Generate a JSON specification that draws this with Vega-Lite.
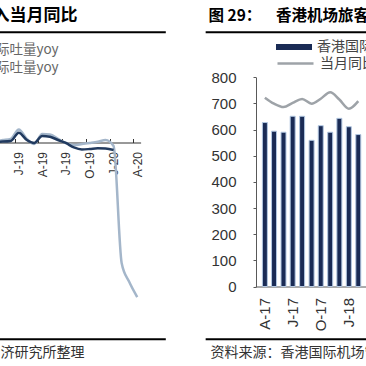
{
  "$schema": "https://vega.github.io/schema/vega-lite/v6.json",
  "width": 366,
  "height": 366,
  "autosize": {"type": "none"},
  "padding": 0,
  "background": "white",
  "config": {
    "view": {"stroke": null},
    "axis": {"grid": false, "labelFont": "Liberation Sans", "titleFont": "Noto Sans CJK SC"},
    "legend": {"labelFont": "Noto Sans CJK SC", "padding": 0}
  },
  "layer": [
    {
      "layer": [
        {
          "data": {"values": [
            {"month": "2018-09-01", "series": "实际吐量yoy", "yoy": 1.3},
            {"month": "2018-10-01", "series": "实际吐量yoy", "yoy": 1.0},
            {"month": "2018-11-01", "series": "实际吐量yoy", "yoy": 1.6},
            {"month": "2018-12-01", "series": "实际吐量yoy", "yoy": 2.3},
            {"month": "2019-01-01", "series": "实际吐量yoy", "yoy": 8.4},
            {"month": "2019-02-01", "series": "实际吐量yoy", "yoy": 2.3},
            {"month": "2019-03-01", "series": "实际吐量yoy", "yoy": -1.0},
            {"month": "2019-04-01", "series": "实际吐量yoy", "yoy": 5.5},
            {"month": "2019-05-01", "series": "实际吐量yoy", "yoy": 5.2},
            {"month": "2019-06-01", "series": "实际吐量yoy", "yoy": 2.3},
            {"month": "2019-07-01", "series": "实际吐量yoy", "yoy": -0.3},
            {"month": "2019-08-01", "series": "实际吐量yoy", "yoy": -1.6},
            {"month": "2019-09-01", "series": "实际吐量yoy", "yoy": -1.0},
            {"month": "2019-10-01", "series": "实际吐量yoy", "yoy": -0.3},
            {"month": "2019-11-01", "series": "实际吐量yoy", "yoy": 0.5},
            {"month": "2019-12-01", "series": "实际吐量yoy", "yoy": 1.6},
            {"month": "2020-01-01", "series": "实际吐量yoy", "yoy": -2.3},
            {"month": "2020-02-01", "series": "实际吐量yoy", "yoy": -77.7},
            {"month": "2020-03-01", "series": "实际吐量yoy", "yoy": -89.9},
            {"month": "2020-04-01", "series": "实际吐量yoy", "yoy": -99.7},
            {"month": "2018-09-01", "series": "国际吐量yoy", "yoy": 0.5},
            {"month": "2018-10-01", "series": "国际吐量yoy", "yoy": 0.5},
            {"month": "2018-11-01", "series": "国际吐量yoy", "yoy": 0.6},
            {"month": "2018-12-01", "series": "国际吐量yoy", "yoy": 1.0},
            {"month": "2019-01-01", "series": "国际吐量yoy", "yoy": 6.3},
            {"month": "2019-02-01", "series": "国际吐量yoy", "yoy": 1.6},
            {"month": "2019-03-01", "series": "国际吐量yoy", "yoy": -0.3},
            {"month": "2019-04-01", "series": "国际吐量yoy", "yoy": 4.2},
            {"month": "2019-05-01", "series": "国际吐量yoy", "yoy": 3.7},
            {"month": "2019-06-01", "series": "国际吐量yoy", "yoy": 1.6},
            {"month": "2019-07-01", "series": "国际吐量yoy", "yoy": -0.3},
            {"month": "2019-08-01", "series": "国际吐量yoy", "yoy": -3.2},
            {"month": "2019-09-01", "series": "国际吐量yoy", "yoy": -4.5},
            {"month": "2019-10-01", "series": "国际吐量yoy", "yoy": -4.2},
            {"month": "2019-11-01", "series": "国际吐量yoy", "yoy": -3.7},
            {"month": "2019-12-01", "series": "国际吐量yoy", "yoy": -3.9},
            {"month": "2020-01-01", "series": "国际吐量yoy", "yoy": -4.8}
          ]},
          "mark": {"type": "line", "interpolate": "monotone", "strokeWidth": 2.5},
          "encoding": {
            "x": {
              "field": "month", "type": "temporal",
              "scale": {"domain": [{"year": 2018, "month": 7, "date": 1}, {"year": 2020, "month": 4, "date": 14}], "range": [-29.0, 140.6]},
              "axis": {
                "orient": "bottom", "offset": -223.5,
                "tickCount": {"interval": "month", "step": 3},
                "labelExpr": "substring(timeFormat(datum.value, '%b'), 0, 1) + '-' + timeFormat(datum.value, '%y')",
                "labelAngle": 270, "labelAlign": "right", "labelBaseline": "middle",
                "labelFontSize": 12, "labelColor": "#333333",
                "labelFlush": false, "labelOverlap": false,
                "tickSize": -4, "tickOffset": -4, "labelOffset": 4, "labelPadding": 13,
                "tickColor": "#333333", "domainColor": "#333333",
                "title": "济研究所整理", "titleX": 0, "titleY": 209.5, "titleAngle": 0,
                "titleAlign": "left", "titleBaseline": "middle",
                "titleFontSize": 14, "titleFontWeight": "normal", "titleColor": "#333333"
              }
            },
            "y": {
              "field": "yoy", "type": "quantitative",
              "scale": {"domain": [-100, 20], "range": [297.5, 111.5], "nice": false, "zero": false},
              "axis": {
                "orient": "left", "offset": 0, "domain": false, "labels": false, "ticks": false,
                "title": "入当月同比", "titleX": 77, "titleY": 15, "titleAngle": 0,
                "titleAlign": "right", "titleBaseline": "middle",
                "titleFontSize": 17, "titleFontWeight": "bold", "titleColor": "#000000"
              }
            },
            "color": {
              "field": "series", "type": "nominal",
              "scale": {"domain": ["国际吐量yoy", "实际吐量yoy"], "range": ["#213a5f", "#a4b6ca"]},
              "legend": {
                "orient": "none", "legendX": -36, "legendY": 43.25, "title": null,
                "symbolType": "stroke", "symbolSize": 100, "symbolStrokeWidth": 2.5,
                "labelFontSize": 13.5, "labelColor": "#666666", "labelOffset": 5,
                "rowPadding": 3, "labelLimit": 300
              }
            }
          }
        },
        {
          "data": {"values": [{}]},
          "mark": {"type": "rule", "color": "#000000", "strokeWidth": 2},
          "encoding": {
            "x": {"datum": {"year": 2018, "month": 10, "date": 1}, "type": "temporal"},
            "x2": {"datum": {"year": 2020, "month": 7, "date": 20}},
            "y": {"datum": 71.1, "type": "quantitative"}
          }
        },
        {
          "data": {"values": [{}]},
          "mark": {"type": "rule", "color": "#000000", "strokeWidth": 2},
          "encoding": {
            "x": {"datum": {"year": 2018, "month": 10, "date": 1}, "type": "temporal"},
            "x2": {"datum": {"year": 2020, "month": 7, "date": 20}},
            "y": {"datum": -127.0, "type": "quantitative"}
          }
        }
      ]
    },
    {
      "layer": [
        {
          "layer": [
            {
              "data": {"values": [
                {"month": "2017-04-01", "passengers": 627, "yoy": 2.2},
                {"month": "2017-05-01", "passengers": 594, "yoy": -0.1},
                {"month": "2017-06-01", "passengers": 590, "yoy": -1.4},
                {"month": "2017-07-01", "passengers": 651, "yoy": 0.2},
                {"month": "2017-08-01", "passengers": 651, "yoy": 1.7},
                {"month": "2017-09-01", "passengers": 559, "yoy": -0.1},
                {"month": "2017-10-01", "passengers": 615, "yoy": 1.8},
                {"month": "2017-11-01", "passengers": 590, "yoy": 4.3},
                {"month": "2017-12-01", "passengers": 643, "yoy": 1.5},
                {"month": "2018-01-01", "passengers": 611, "yoy": -2.0},
                {"month": "2018-02-01", "passengers": 581, "yoy": 0.9}
              ]},
              "mark": {"type": "bar", "width": 5, "stroke": "#b3c8e2", "strokeWidth": 1},
              "encoding": {
                "x": {
                  "field": "month", "type": "temporal",
                  "scale": {"domain": [{"year": 2017, "month": 3, "date": 17}, {"year": 2018, "month": 4, "date": 1}], "range": [255.3, 381.3]},
                  "axis": {
                    "orient": "bottom", "offset": -79.5,
                    "tickCount": {"interval": "month", "step": 3},
                    "labelExpr": "substring(timeFormat(datum.value, '%b'), 0, 1) + '-' + timeFormat(datum.value, '%y')",
                    "labelAngle": 270, "labelAlign": "right", "labelBaseline": "middle",
                    "labelFontSize": 15, "labelColor": "#333333",
                    "labelFlush": false, "labelOverlap": false,
                    "ticks": false, "labelPadding": 11,
                    "domainColor": "#595959",
                    "title": "资料来源：香港国际机场管理局", "titleX": 210, "titleY": 65.5, "titleAngle": 0,
                    "titleAlign": "left", "titleBaseline": "middle",
                    "titleFontSize": 14, "titleFontWeight": "normal", "titleColor": "#333333"
                  }
                },
                "y": {
                  "field": "passengers", "type": "quantitative",
                  "scale": {"domain": [0, 800], "range": [286.5, 77.3], "nice": false},
                  "axis": {
                    "orient": "left", "offset": -256, "tickCount": 8,
                    "labelFontSize": 15, "labelColor": "#333333",
                    "domainColor": "#595959", "tickColor": "#595959", "tickSize": 3, "labelPadding": 17,
                    "title": "图 29：\u2002\u00a0\u00a0香港机场旅客吞吐量及当月同比", "titleX": -48, "titleY": 15, "titleAngle": 0,
                    "titleAlign": "left", "titleBaseline": "middle",
                    "titleFontSize": 15.5, "titleFontWeight": "bold", "titleColor": "#000000"
                  }
                },
                "fill": {
                  "datum": "香港国际机场旅客吞吐量（万人次）", "type": "nominal",
                  "scale": {"range": ["#1a2b55"]},
                  "legend": {
                    "orient": "none", "legendX": 276, "legendY": 29, "title": null,
                    "symbolType": "M-1,-0.17H1V0.17H-1Z", "symbolSize": 1296, "symbolStrokeWidth": 0,
                    "labelFontSize": 14, "labelColor": "#444444", "labelOffset": 5, "labelLimit": 400
                  }
                }
              }
            },
            {
              "data": {"values": [{}]},
              "mark": {"type": "rule", "color": "#000000", "strokeWidth": 2},
              "encoding": {
                "x": {"datum": {"year": 2016, "month": 9, "date": 19}, "type": "temporal"},
                "x2": {"datum": {"year": 2018, "month": 4, "date": 1}},
                "y": {"datum": 972.1, "type": "quantitative"}
              }
            },
            {
              "data": {"values": [{}]},
              "mark": {"type": "rule", "color": "#000000", "strokeWidth": 2},
              "encoding": {
                "x": {"datum": {"year": 2016, "month": 9, "date": 19}, "type": "temporal"},
                "x2": {"datum": {"year": 2018, "month": 4, "date": 1}},
                "y": {"datum": -201.9, "type": "quantitative"}
              }
            }
          ]
        },
        {
          "data": {"values": [
            {"month": "2017-04-01", "passengers": 627, "yoy": 2.2},
            {"month": "2017-05-01", "passengers": 594, "yoy": -0.1},
            {"month": "2017-06-01", "passengers": 590, "yoy": -1.4},
            {"month": "2017-07-01", "passengers": 651, "yoy": 0.2},
            {"month": "2017-08-01", "passengers": 651, "yoy": 1.7},
            {"month": "2017-09-01", "passengers": 559, "yoy": -0.1},
            {"month": "2017-10-01", "passengers": 615, "yoy": 1.8},
            {"month": "2017-11-01", "passengers": 590, "yoy": 4.3},
            {"month": "2017-12-01", "passengers": 643, "yoy": 1.5},
            {"month": "2018-01-01", "passengers": 611, "yoy": -2.0},
            {"month": "2018-02-01", "passengers": 581, "yoy": 0.9}
          ]},
          "mark": {"type": "line", "interpolate": "monotone", "strokeWidth": 2.5},
          "encoding": {
            "x": {"field": "month", "type": "temporal"},
            "y": {
              "field": "yoy", "type": "quantitative",
              "scale": {"domain": [-70, 10], "range": [286.5, 77.3], "nice": false, "zero": false},
              "axis": null
            },
            "stroke": {
              "datum": "当月同比", "type": "nominal",
              "scale": {"range": ["#9ea3a8"]},
              "legend": {
                "orient": "none", "legendX": 276, "legendY": 44, "title": null,
                "symbolType": "stroke", "symbolSize": 1296, "symbolStrokeWidth": 2.5,
                "labelFontSize": 14, "labelColor": "#444444", "labelOffset": 5, "labelLimit": 400
              }
            }
          }
        }
      ],
      "resolve": {"scale": {"y": "independent"}}
    }
  ],
  "resolve": {"scale": {"x": "independent", "y": "independent"}}
}
